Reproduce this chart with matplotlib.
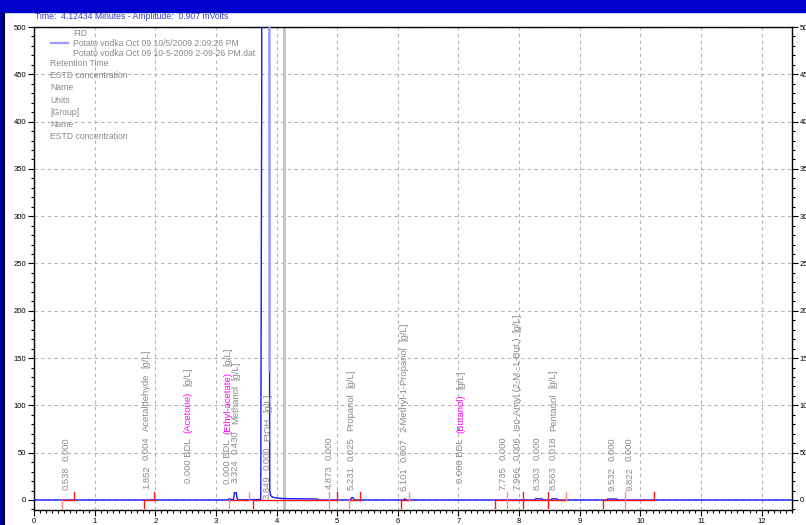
import numpy as np
import matplotlib.pyplot as plt
from matplotlib.patches import Rectangle
from matplotlib.ticker import MultipleLocator

plt.rcParams['font.family'] = ['Liberation Sans', 'DejaVu Sans']

W, H = 806, 525

# FID signal, minutes / mVolts
time = [0.0, 3.20, 3.215, 3.235, 3.25, 3.29, 3.305, 3.335, 3.35, 3.38,
        3.740, 3.742, 3.755, 3.760, 3.870, 3.885, 3.888, 3.90, 3.93,
        3.97, 4.02, 4.10, 4.67, 4.68,
        5.22, 5.24, 5.26, 5.28, 6.10, 6.115, 6.14,
        8.26, 8.27, 8.38, 8.39, 8.53, 8.54, 8.62, 8.63,
        9.45, 9.46, 9.61, 9.62, 12.5]
signal = [0.0, 0.0, 1.0, 1.0, 0.3, 0.5, 7.7, 7.7, 1.0, 0.0,
          0.5, 90.0, 424.0, 2400.0, 2400.0, 137.0, 10.0, 5.0, 3.0,
          2.5, 2.0, 1.5, 1.0, 0.0,
          0.0, 2.5, 2.5, 0.0, 0.0, 1.2, 0.0,
          0.0, 1.2, 1.2, 0.0, 0.0, 1.2, 1.2, 0.0,
          0.0, 1.0, 1.0, 0.0, 0.0]

# integration baselines
seg_start = [0.456, 1.81, 3.21, 3.61, 5.19, 6.05, 7.61, 9.39]
seg_end = [0.66, 1.98, 3.54, 4.99, 5.38, 6.18, 8.77, 10.22]
start_faint = [True, False, True, False, True, False, False, False]
end_faint = [False, False, True, False, False, True, True, False]
split_marks = [4.87, 7.80, 8.06, 8.47, 9.75]
split_faint = [True, True, False, False, True]

# peak annotations
label_x = [0.538, 1.852, 2.54, 3.19, 3.324, 3.849, 4.873, 5.231, 6.101,
           7.04, 7.735, 7.966, 8.303, 8.563, 9.532, 9.822]
detected = [True, True, False, False, True, True, True, True, True,
            False, True, True, True, True, True, True]
conc = ['0.000', '0.004', '0.000', '0.000', '0.430', '0.000', '0.000', '0.025',
        '0.007', '0.000', '0.000', '0.006', '0.000', '0.018', '0.000', '0.000']
names = ['', 'Acetaldehyde', '(Acetone)', '(Ethyl-acetate)', 'Methanol', 'EtOH',
         '', 'Propanol', '2-Methyl-1-Propanol', '(Butanol)', '',
         'Iso-Amyl (2-M.-1-But.)', '', 'Pentanol', '', '']
units = '[g/L]'
label_base = [10.6, 11.3, 18, 17, 18, 1, 11.6, 10.5, 9.8, 18, 11, 11, 11, 11, 10, 10]

cursor_time = 4.12434
cursor_amp = 0.907

legend_lines = ['Retention Time', 'ESTD concentration', 'Name', 'Units',
                '[Group]', 'Name', 'ESTD concentration']

GRAY = '#8a8a8a'
MAGENTA = '#ff00ff'
RED = '#ff1a1a'
PINK = '#ff8a8a'
BLUE = '#1515ff'
LBLUE = '#9a9aff'

fig = plt.figure(figsize=(W / 100, H / 100), dpi=100, facecolor='white')

def fx(px):
    return px / W

def fy(py):
    return 1 - py / H

ax = fig.add_axes([fx(34), fy(510), fx(792) - fx(34), fy(27) - fy(510)])
ax.set_xlim(0, 12.5)
ax.set_ylim(-10.6, 500)

ax.xaxis.set_major_locator(MultipleLocator(1))
ax.xaxis.set_minor_locator(MultipleLocator(0.1))
ax.yaxis.set_major_locator(MultipleLocator(50))
ax.yaxis.set_minor_locator(MultipleLocator(10))
ax.tick_params(which='both', direction='out', right=True, labelright=True,
               labelsize=5.5, colors='black', pad=1.5)
ax.tick_params(which='major', length=4, width=0.8)
ax.tick_params(which='minor', length=2, width=0.8)
for sp in ax.spines.values():
    sp.set_linewidth(1.0)

ax.grid(True, which='major', color='#b4b4b4', lw=0.8, ls=(0, (3, 3)))
ax.set_axisbelow(True)

ax.axvline(cursor_time, color='#c4c4c4', lw=2.2, zorder=1)

# trace
t = np.array(time)
s = np.array(signal)
ax.plot(t, s, color=BLUE, lw=1.0, zorder=3)
fall = slice(time.index(3.870), time.index(3.885) + 1)
ax.plot(t[fall], s[fall], color=LBLUE, lw=1.6, zorder=3)

# baselines and event marks
for a, b in zip(seg_start, seg_end):
    ax.plot([a, b], [0, 0], color=RED, lw=1.0, zorder=4)
for x, f in zip(seg_start, start_faint):
    ax.plot([x, x], [0, -8], color=PINK if f else RED, lw=1.0, zorder=4)
for x, f in zip(seg_end, end_faint):
    ax.plot([x, x], [0, 8], color=PINK if f else RED, lw=1.0, zorder=4)
for x, f in zip(split_marks, split_faint):
    ax.plot([x, x], [-8, 8], color=PINK if f else RED, lw=1.0, zorder=4)

FS = 6.8
GAP = 4.0


def stacked_label(x, y0, pieces):
    txt, col = pieces[0]
    prev = ax.text(x, y0, txt, color=col, rotation=90, ha='center', va='bottom',
                   fontsize=FS, zorder=5)
    for txt, col in pieces[1:]:
        prev = ax.annotate(txt, xy=(0.5, 1), xycoords=prev, xytext=(0, GAP),
                           textcoords='offset points', rotation=90, ha='center',
                           va='bottom', color=col, fontsize=FS, zorder=5)


for i, x in enumerate(label_x):
    if detected[i]:
        pieces = [('%.3f' % x, GRAY), (conc[i], GRAY)]
    else:
        pieces = [(conc[i] + ' BDL', GRAY)]
    if names[i]:
        pieces.append((names[i], MAGENTA if names[i].startswith('(') else GRAY))
        pieces.append((units, GRAY))
    stacked_label(x, label_base[i], pieces)

# legend block in the upper left
LFS = 6.2
fig.text(fx(73), fy(33), 'FID', color=GRAY, fontsize=LFS, va='center')
fig.text(fx(73), fy(43), 'Potato vodka Oct 09 10/5/2009 2:09:26 PM', color=GRAY,
         fontsize=LFS, va='center')
fig.text(fx(73), fy(53), 'Potato vodka Oct 09 10-5-2009 2-09-26 PM.dat', color=GRAY,
         fontsize=LFS, va='center')
fig.add_artist(plt.Line2D([fx(51), fx(68)], [fy(43), fy(43)], color=LBLUE, lw=1.6))
for k, line in enumerate(legend_lines):
    fig.text(fx(50), fy(63.5 + k * 12.2), line, color=GRAY, fontsize=LFS, va='center')

# window frame
fig.text(fx(35), fy(19), 'Time:  %.5f Minutes - Amplitude:  %.3f mVolts' % (cursor_time, cursor_amp),
         color='#2f3fd0', fontsize=6.2, va='baseline', zorder=1)
fig.add_artist(Rectangle((0, fy(12)), 1, fy(0) - fy(12), transform=fig.transFigure,
                         color='#0000cc', zorder=10))
grad = fig.add_axes([0, 0, fx(5), fy(12)], zorder=10)
grad.imshow(np.linspace(0.75, 0.2, 100)[:, None] * np.array([0, 0, 1])[None, None, :]
            + np.zeros((100, 1, 3)), aspect='auto', extent=(0, 1, 0, 1))
grad.set_axis_off()

fig.savefig('out.png', dpi=100)
